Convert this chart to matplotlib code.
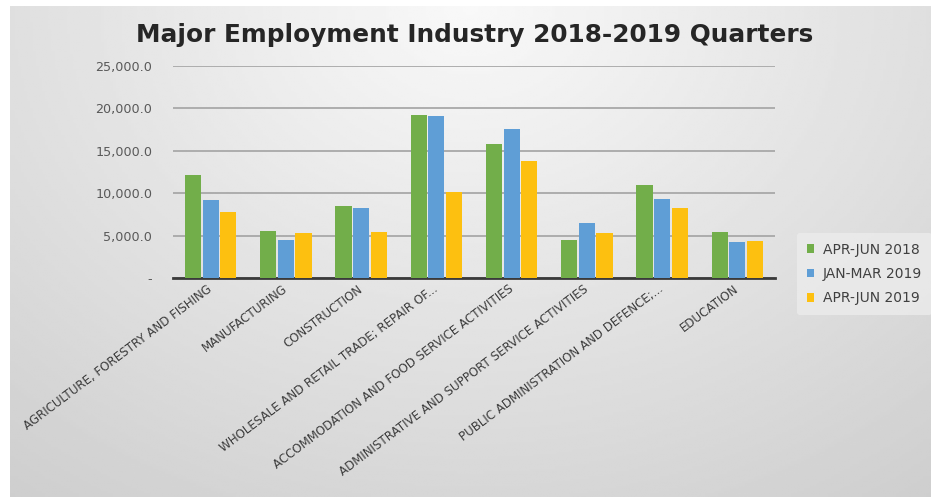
import numpy as np
import matplotlib
matplotlib.use('Agg')
import matplotlib.pyplot as plt

categories = [
    'AGRICULTURE, FORESTRY AND FISHING',
    'MANUFACTURING',
    'CONSTRUCTION',
    'WHOLESALE AND RETAIL TRADE; REPAIR OF...',
    'ACCOMMODATION AND FOOD SERVICE ACTIVITIES',
    'ADMINISTRATIVE AND SUPPORT SERVICE ACTIVITIES',
    'PUBLIC ADMINISTRATION AND DEFENCE;...',
    'EDUCATION',
]
series_names = ['APR-JUN 2018', 'JAN-MAR 2019', 'APR-JUN 2019']
apr_jun_2018 = [12100, 5550, 8450, 19200, 15800, 4480, 10950, 5470]
jan_mar_2019 = [9200, 4480, 8300, 19050, 17550, 6450, 9350, 4280]
apr_jun_2019 = [7750, 5330, 5400, 10150, 13800, 5270, 8200, 4400]
colors = ['#72ae4a', '#5f9ed6', '#fdc010']
yticks = [0, 5000, 10000, 15000, 20000, 25000]

W, H = 931, 501
fig = plt.figure(figsize=(W / 100, H / 100), dpi=100)
fig.patch.set_facecolor('white')

# gradient background of the chart area
bg = fig.add_axes([10 / W, 4 / H, 1 - 10 / W, (H - 10) / H], zorder=0)
gx, gy = np.meshgrid(np.linspace(0, 1, 300), np.linspace(0, 1, 200))
r = np.sqrt(((gx - 0.5) / 0.8) ** 2 + ((gy - 0.0) / 1.2) ** 2)
shade = 0.975 - 0.16 * np.clip(r, 0, 1.2)
bg.imshow(shade, cmap='gray', vmin=0, vmax=1, aspect='auto', extent=[0, 1, 1, 0])
bg.axis('off')

ax = fig.add_axes([173 / W, 1 - 278 / H, (775 - 173) / W, (278 - 66) / H], zorder=1)
ax.patch.set_alpha(0)

x = np.arange(len(categories))
bw = 0.215
for i, (vals, name) in enumerate(zip([apr_jun_2018, jan_mar_2019, apr_jun_2019], series_names)):
    ax.bar(x + (i - 1) * (bw + 0.02), vals, width=bw, color=colors[i], label=name, zorder=3)

ax.set_xlim(-0.5, len(categories) - 0.5)
ax.set_ylim(0, 25000)
ax.set_yticks(yticks)
ax.set_yticklabels(['-' if v == 0 else f'{v:,.1f}' for v in yticks],
                   fontsize=9.2, color='#595959')
ax.yaxis.grid(True, color='#a8a8a8', linewidth=1.3, zorder=0)
ax.set_axisbelow(True)
for s in ['top', 'right', 'left']:
    ax.spines[s].set_visible(False)
ax.spines['bottom'].set_color('#3a3a3a')
ax.spines['bottom'].set_linewidth(2)
ax.tick_params(axis='y', length=0, pad=15)
ax.tick_params(axis='x', length=0, pad=7)
ax.set_xticks(x)
ax.set_xticklabels(categories, rotation=37, ha='right', va='center',
                   rotation_mode='anchor', fontsize=8.6, color='#3c3c3c')

fig.text(0.51, 1 - 42 / H, 'Major Employment Industry 2018-2019 Quarters',
         ha='center', va='baseline', fontsize=17.8, fontweight='bold',
         color='#262626')

leg = ax.legend(loc='center left', bbox_to_anchor=(797 / W, 1 - 274 / H),
                bbox_transform=fig.transFigure, frameon=True, fontsize=10,
                handlelength=0.55, handleheight=0.55, handletextpad=0.6,
                labelspacing=0.75, borderpad=0.7, borderaxespad=0)
leg.get_frame().set_facecolor('#ececec')
leg.get_frame().set_edgecolor('none')
leg.get_frame().set_alpha(0.8)
for t in leg.get_texts():
    t.set_color('#404040')

fig.savefig('out.png', dpi=100)
